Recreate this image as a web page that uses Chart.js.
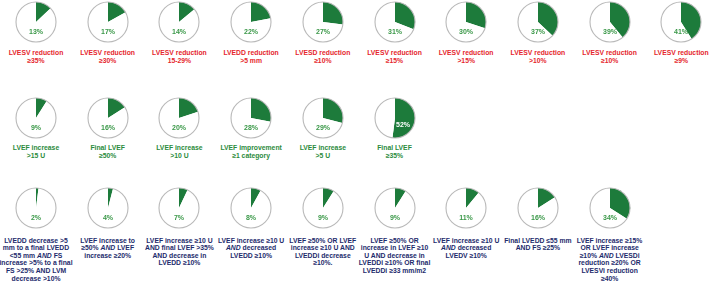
<!DOCTYPE html>
<html>
<head>
<meta charset="utf-8">
<script src="https://cdn.jsdelivr.net/npm/chart.js@4/dist/chart.umd.min.js"></script>
<style>
  html, body { margin: 0; padding: 0; background: #fff; }
  #board {
    position: relative;
    width: 709px;
    height: 283px;
    overflow: hidden;
    font-family: 'Liberation Sans', Arial, sans-serif;
    font-weight: bold;
  }
  #board canvas { position: absolute; }
  .label {
    position: absolute;
    width: 90px;
    margin-left: -45px;
    text-align: center;
    font-size: 6.8px;
    white-space: nowrap;
  }
</style>
</head>
<body>
<div id="board"></div>
<script>
// Respuesta por criterio (% de pacientes).
const reductionValues = [13, 17, 14, 22, 27, 31, 30, 37, 39, 41];
const reductionLabels = [
  ['LVESV reduction', '≥35%'],
  ['LVESV reduction', '≥30%'],
  ['LVESV reduction', '15-29%'],
  ['LVEDD reduction', '>5 mm'],
  ['LVESD reduction', '≥10%'],
  ['LVESV reduction', '≥15%'],
  ['LVESV reduction', '>15%'],
  ['LVESV reduction', '>10%'],
  ['LVESV reduction', '≥10%'],
  ['LVESV reduction', '≥9%']
];

const lvefValues = [9, 16, 20, 28, 29, 52];
const lvefLabels = [
  ['LVEF increase', '>15 U'],
  ['Final LVEF', '≥50%'],
  ['LVEF increase', '>10 U'],
  ['LVEF improvement', '≥1 category'],
  ['LVEF increase', '>5 U'],
  ['Final LVEF', '≥35%']
];

const compositeValues = [2, 4, 7, 8, 9, 9, 11, 16, 34];
const compositeLabels = [
  ['LVEDD decrease >5', 'mm to a final LVEDD', '<55 mm <i>AND</i> FS', 'increase >5% to a final', 'FS >25% AND LVM', 'decrease >10%'],
  ['LVEF increase to', '≥50% <i>AND</i> LVEF', 'increase ≥20%'],
  ['LVEF increase ≥10 U', 'AND final LVEF >35%', 'AND decrease in', 'LVEDD ≥10%'],
  ['LVEF increase ≥10 U', '<i>AND</i> decreased', 'LVEDD ≥10%'],
  ['LVEF ≥50% OR LVEF', 'increase ≥10 U AND', 'LVEDDi decrease', '≥10%.'],
  ['LVEF ≥50% OR', 'increase in LVEF ≥10', 'U AND decrease in', 'LVEDDi ≥10% OR final', 'LVEDDi ≥33 mm/m2'],
  ['LVEF increase ≥10 U', '<i>AND</i> decreased', 'LVEDV ≥10%'],
  ['Final LVEDD ≤55 mm', 'AND FS ≥25%'],
  ['LVEF increase ≥15%', 'OR LVEF increase', '≥10% <i>AND</i> LVESDi', 'reduction ≥20% OR', 'LVESVi reduction', '≥40%']
];

(function () {
  'use strict';

  const GREEN = '#1d7b3b';
  const PCT_GREEN = '#3a9848';
  const RING = '#b9b9b9';

  const rows = [
    { values: reductionValues, labels: reductionLabels, color: '#e5262d', cy: 22, textTop: 49, lineHeight: 8 },
    { values: lvefValues, labels: lvefLabels, color: '#2b8b3c', cy: 118, textTop: 144.3, lineHeight: 8 },
    { values: compositeValues, labels: compositeLabels, color: '#1d2b6c', cy: 208, textTop: 236.5, lineHeight: 7.65 }
  ];

  /**
   * Plugin: aro gris exterior y etiqueta de porcentaje.
   */
  const pieDecor = {
    id: 'pieDecor',
    afterDatasetsDraw: function (chart) {
      const arc = chart.getDatasetMeta(0).data[0];
      const value = chart.data.datasets[0].data[0];
      const ctx = chart.ctx;
      const r = arc.outerRadius;
      ctx.save();
      ctx.beginPath();
      ctx.arc(arc.x, arc.y, r, 0, Math.PI * 2);
      ctx.strokeStyle = RING;
      ctx.lineWidth = 1.1;
      ctx.stroke();

      ctx.font = 'bold 7px "Liberation Sans", Arial, sans-serif';
      ctx.textAlign = 'center';
      ctx.textBaseline = 'middle';
      if (value > 50) {
        ctx.fillStyle = '#ffffff';
        ctx.fillText(value + '%', arc.x + r * 0.4, arc.y + r * 0.35);
      }
      else {
        ctx.fillStyle = PCT_GREEN;
        ctx.fillText(value + '%', arc.x, arc.y + r * 0.5);
      }
      ctx.restore();
    }
  };

  const board = document.getElementById('board');
  const size = 44;

  rows.forEach(function (row) {
    row.values.forEach(function (value, i) {
      const cx = 36 + 71.7 * i;

      const canvas = document.createElement('canvas');
      canvas.width = size;
      canvas.height = size;
      canvas.style.left = (cx - size / 2) + 'px';
      canvas.style.top = (row.cy - size / 2) + 'px';
      board.appendChild(canvas);

      new Chart(canvas, {
        type: 'pie',
        data: {
          labels: ['yes', 'no'],
          datasets: [{
            data: [value, 100 - value],
            backgroundColor: [GREEN, '#ffffff'],
            borderWidth: 0
          }]
        },
        options: {
          responsive: false,
          animation: false,
          events: [],
          layout: { padding: 2 },
          plugins: {
            legend: { display: false },
            tooltip: { enabled: false }
          }
        },
        plugins: [pieDecor]
      });

      const label = document.createElement('div');
      label.className = 'label';
      label.style.left = cx + 'px';
      label.style.top = row.textTop + 'px';
      label.style.lineHeight = row.lineHeight + 'px';
      label.style.color = row.color;
      label.innerHTML = row.labels[i].join('<br>');
      board.appendChild(label);
    });
  });
})();
</script>
</body>
</html>
